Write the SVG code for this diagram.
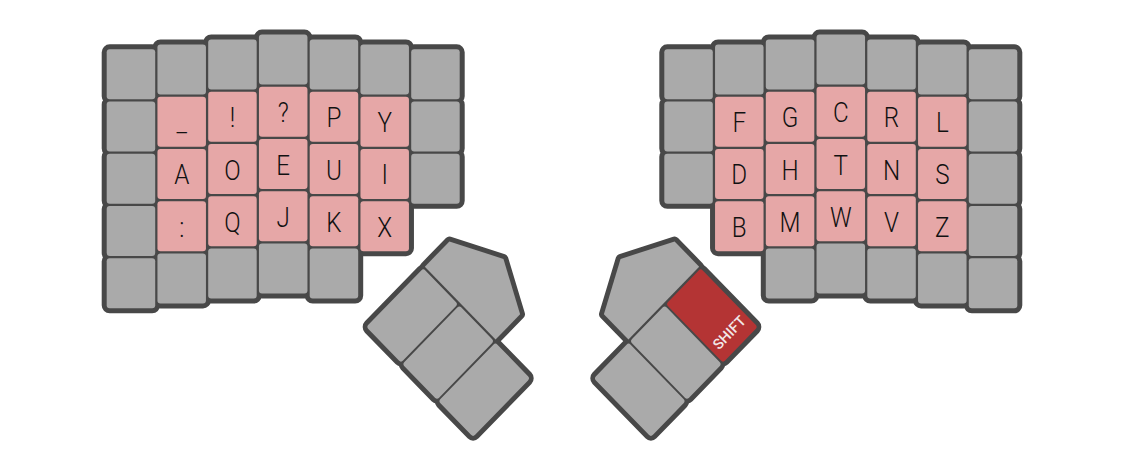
<svg xmlns="http://www.w3.org/2000/svg" xmlns:xlink="http://www.w3.org/1999/xlink" width="1124" height="470" viewBox="0 0 1124 470">
<style>
.ol{fill:#484848;stroke:#484848;stroke-width:10;stroke-linejoin:round}
.k{fill:#aaaaaa}
.p{fill:#e6a7a7}
.s{fill:#b43434}
.t{font-family:Roboto,"Liberation Sans",sans-serif;font-weight:300;font-size:28.5px;fill:#111111;text-anchor:middle}
.st{font-family:Roboto,"Liberation Sans",sans-serif;font-weight:500;font-size:14.5px;fill:#f2e8e8}
</style>
<defs>
<rect id="kr" width="48.5" height="50" rx="3"/>
<rect id="tk" width="50.5" height="83" rx="3"/>
<polygon id="pent" points="0,-2.25 0,-38 51.75,-65 103,-38 103,-2.25"/>
</defs>
<rect width="1124" height="470" fill="#ffffff"/>
<g id="outline-left">
<use href="#kr" class="ol" x="106.7" y="49.3"/><use href="#kr" class="ol" x="106.7" y="101.55"/><use href="#kr" class="ol" x="106.7" y="153.8"/><use href="#kr" class="ol" x="106.7" y="206.05"/><use href="#kr" class="ol" x="106.7" y="258.3"/>
<use href="#kr" class="ol" x="157.45" y="44.4"/><use href="#kr" class="ol" x="157.45" y="96.65"/><use href="#kr" class="ol" x="157.45" y="148.9"/><use href="#kr" class="ol" x="157.45" y="201.15"/><use href="#kr" class="ol" x="157.45" y="253.4"/>
<use href="#kr" class="ol" x="208.2" y="39.5"/><use href="#kr" class="ol" x="208.2" y="91.75"/><use href="#kr" class="ol" x="208.2" y="144"/><use href="#kr" class="ol" x="208.2" y="196.25"/><use href="#kr" class="ol" x="208.2" y="248.5"/>
<use href="#kr" class="ol" x="258.95" y="34.6"/><use href="#kr" class="ol" x="258.95" y="86.85"/><use href="#kr" class="ol" x="258.95" y="139.1"/><use href="#kr" class="ol" x="258.95" y="191.35"/><use href="#kr" class="ol" x="258.95" y="243.6"/>
<use href="#kr" class="ol" x="309.7" y="39.5"/><use href="#kr" class="ol" x="309.7" y="91.75"/><use href="#kr" class="ol" x="309.7" y="144"/><use href="#kr" class="ol" x="309.7" y="196.25"/><use href="#kr" class="ol" x="309.7" y="248.5"/>
<use href="#kr" class="ol" x="360.45" y="44.4"/><use href="#kr" class="ol" x="360.45" y="96.65"/><use href="#kr" class="ol" x="360.45" y="148.9"/><use href="#kr" class="ol" x="360.45" y="201.15"/>
<use href="#kr" class="ol" x="411.2" y="49.3"/><use href="#kr" class="ol" x="411.2" y="101.55"/><use href="#kr" class="ol" x="411.2" y="153.8"/>
</g>
<g id="outline-right">
<use href="#kr" class="ol" x="664.3" y="49.3"/><use href="#kr" class="ol" x="664.3" y="101.55"/><use href="#kr" class="ol" x="664.3" y="153.8"/>
<use href="#kr" class="ol" x="715.05" y="44.4"/><use href="#kr" class="ol" x="715.05" y="96.65"/><use href="#kr" class="ol" x="715.05" y="148.9"/><use href="#kr" class="ol" x="715.05" y="201.15"/>
<use href="#kr" class="ol" x="765.8" y="39.5"/><use href="#kr" class="ol" x="765.8" y="91.75"/><use href="#kr" class="ol" x="765.8" y="144"/><use href="#kr" class="ol" x="765.8" y="196.25"/><use href="#kr" class="ol" x="765.8" y="248.5"/>
<use href="#kr" class="ol" x="816.55" y="34.6"/><use href="#kr" class="ol" x="816.55" y="86.85"/><use href="#kr" class="ol" x="816.55" y="139.1"/><use href="#kr" class="ol" x="816.55" y="191.35"/><use href="#kr" class="ol" x="816.55" y="243.6"/>
<use href="#kr" class="ol" x="867.3" y="39.5"/><use href="#kr" class="ol" x="867.3" y="91.75"/><use href="#kr" class="ol" x="867.3" y="144"/><use href="#kr" class="ol" x="867.3" y="196.25"/><use href="#kr" class="ol" x="867.3" y="248.5"/>
<use href="#kr" class="ol" x="918.05" y="44.4"/><use href="#kr" class="ol" x="918.05" y="96.65"/><use href="#kr" class="ol" x="918.05" y="148.9"/><use href="#kr" class="ol" x="918.05" y="201.15"/><use href="#kr" class="ol" x="918.05" y="253.4"/>
<use href="#kr" class="ol" x="968.8" y="49.3"/><use href="#kr" class="ol" x="968.8" y="101.55"/><use href="#kr" class="ol" x="968.8" y="153.8"/><use href="#kr" class="ol" x="968.8" y="206.05"/><use href="#kr" class="ol" x="968.8" y="258.3"/>
</g>
<g id="outline-thumb-left" transform="matrix(0.6866 0.7071 -0.6866 0.7071 423.3 268.3)">
<use href="#tk" class="ol" x="0" y="0"/><use href="#tk" class="ol" x="52.5" y="0"/><use href="#tk" class="ol" x="105" y="0"/><use href="#pent" class="ol"/>
</g>
<g id="outline-thumb-right" transform="matrix(-0.6866 0.7071 0.6866 0.7071 700.7 268.3)">
<use href="#tk" class="ol" x="0" y="0"/><use href="#tk" class="ol" x="52.5" y="0"/><use href="#tk" class="ol" x="105" y="0"/><use href="#pent" class="ol"/>
</g>

<g id="left-half">
<g id="L-c0r0"><use href="#kr" class="k" x="106.7" y="49.3"/></g>
<g id="L-c0r1"><use href="#kr" class="k" x="106.7" y="101.55"/></g>
<g id="L-c0r2"><use href="#kr" class="k" x="106.7" y="153.8"/></g>
<g id="L-c0r3"><use href="#kr" class="k" x="106.7" y="206.05"/></g>
<g id="L-c0r4"><use href="#kr" class="k" x="106.7" y="258.3"/></g>
<g id="L-c1r0"><use href="#kr" class="k" x="157.45" y="44.4"/></g>
<g id="key-underscore"><use href="#kr" class="p" x="157.45" y="96.65"/><text class="t" transform="translate(181.7,132.15) scale(0.85,1)">_</text></g>
<g id="key-A"><use href="#kr" class="p" x="157.45" y="148.9"/><text class="t" transform="translate(181.7,184.4) scale(0.85,1)">A</text></g>
<g id="key-colon"><use href="#kr" class="p" x="157.45" y="201.15"/><text class="t" transform="translate(181.7,236.65) scale(0.85,1)">:</text></g>
<g id="L-c1r4"><use href="#kr" class="k" x="157.45" y="253.4"/></g>
<g id="L-c2r0"><use href="#kr" class="k" x="208.2" y="39.5"/></g>
<g id="key-excl"><use href="#kr" class="p" x="208.2" y="91.75"/><text class="t" transform="translate(232.45,127.25) scale(0.85,1)">!</text></g>
<g id="key-O"><use href="#kr" class="p" x="208.2" y="144"/><text class="t" transform="translate(232.45,179.5) scale(0.85,1)">O</text></g>
<g id="key-Q"><use href="#kr" class="p" x="208.2" y="196.25"/><text class="t" transform="translate(232.45,231.75) scale(0.85,1)">Q</text></g>
<g id="L-c2r4"><use href="#kr" class="k" x="208.2" y="248.5"/></g>
<g id="L-c3r0"><use href="#kr" class="k" x="258.95" y="34.6"/></g>
<g id="key-quest"><use href="#kr" class="p" x="258.95" y="86.85"/><text class="t" transform="translate(283.2,122.35) scale(0.85,1)">?</text></g>
<g id="key-E"><use href="#kr" class="p" x="258.95" y="139.1"/><text class="t" transform="translate(283.2,174.6) scale(0.85,1)">E</text></g>
<g id="key-J"><use href="#kr" class="p" x="258.95" y="191.35"/><text class="t" transform="translate(283.2,226.85) scale(0.85,1)">J</text></g>
<g id="L-c3r4"><use href="#kr" class="k" x="258.95" y="243.6"/></g>
<g id="L-c4r0"><use href="#kr" class="k" x="309.7" y="39.5"/></g>
<g id="key-P"><use href="#kr" class="p" x="309.7" y="91.75"/><text class="t" transform="translate(333.95,127.25) scale(0.85,1)">P</text></g>
<g id="key-U"><use href="#kr" class="p" x="309.7" y="144"/><text class="t" transform="translate(333.95,179.5) scale(0.85,1)">U</text></g>
<g id="key-K"><use href="#kr" class="p" x="309.7" y="196.25"/><text class="t" transform="translate(333.95,231.75) scale(0.85,1)">K</text></g>
<g id="L-c4r4"><use href="#kr" class="k" x="309.7" y="248.5"/></g>
<g id="L-c5r0"><use href="#kr" class="k" x="360.45" y="44.4"/></g>
<g id="key-Y"><use href="#kr" class="p" x="360.45" y="96.65"/><text class="t" transform="translate(384.7,132.15) scale(0.85,1)">Y</text></g>
<g id="key-I"><use href="#kr" class="p" x="360.45" y="148.9"/><text class="t" transform="translate(384.7,184.4) scale(0.85,1)">I</text></g>
<g id="key-X"><use href="#kr" class="p" x="360.45" y="201.15"/><text class="t" transform="translate(384.7,236.65) scale(0.85,1)">X</text></g>
<g id="L-c6r0"><use href="#kr" class="k" x="411.2" y="49.3"/></g>
<g id="L-c6r1"><use href="#kr" class="k" x="411.2" y="101.55"/></g>
<g id="L-c6r2"><use href="#kr" class="k" x="411.2" y="153.8"/></g>
</g>

<g id="right-half">
<g id="R-c0r0"><use href="#kr" class="k" x="664.3" y="49.3"/></g>
<g id="R-c0r1"><use href="#kr" class="k" x="664.3" y="101.55"/></g>
<g id="R-c0r2"><use href="#kr" class="k" x="664.3" y="153.8"/></g>
<g id="R-c1r0"><use href="#kr" class="k" x="715.05" y="44.4"/></g>
<g id="key-F"><use href="#kr" class="p" x="715.05" y="96.65"/><text class="t" transform="translate(739.3,132.15) scale(0.85,1)">F</text></g>
<g id="key-D"><use href="#kr" class="p" x="715.05" y="148.9"/><text class="t" transform="translate(739.3,184.4) scale(0.85,1)">D</text></g>
<g id="key-B"><use href="#kr" class="p" x="715.05" y="201.15"/><text class="t" transform="translate(739.3,236.65) scale(0.85,1)">B</text></g>
<g id="R-c2r0"><use href="#kr" class="k" x="765.8" y="39.5"/></g>
<g id="key-G"><use href="#kr" class="p" x="765.8" y="91.75"/><text class="t" transform="translate(790.05,127.25) scale(0.85,1)">G</text></g>
<g id="key-H"><use href="#kr" class="p" x="765.8" y="144"/><text class="t" transform="translate(790.05,179.5) scale(0.85,1)">H</text></g>
<g id="key-M"><use href="#kr" class="p" x="765.8" y="196.25"/><text class="t" transform="translate(790.05,231.75) scale(0.85,1)">M</text></g>
<g id="R-c2r4"><use href="#kr" class="k" x="765.8" y="248.5"/></g>
<g id="R-c3r0"><use href="#kr" class="k" x="816.55" y="34.6"/></g>
<g id="key-C"><use href="#kr" class="p" x="816.55" y="86.85"/><text class="t" transform="translate(840.8,122.35) scale(0.85,1)">C</text></g>
<g id="key-T"><use href="#kr" class="p" x="816.55" y="139.1"/><text class="t" transform="translate(840.8,174.6) scale(0.85,1)">T</text></g>
<g id="key-W"><use href="#kr" class="p" x="816.55" y="191.35"/><text class="t" transform="translate(840.8,226.85) scale(0.85,1)">W</text></g>
<g id="R-c3r4"><use href="#kr" class="k" x="816.55" y="243.6"/></g>
<g id="R-c4r0"><use href="#kr" class="k" x="867.3" y="39.5"/></g>
<g id="key-R"><use href="#kr" class="p" x="867.3" y="91.75"/><text class="t" transform="translate(891.55,127.25) scale(0.85,1)">R</text></g>
<g id="key-N"><use href="#kr" class="p" x="867.3" y="144"/><text class="t" transform="translate(891.55,179.5) scale(0.85,1)">N</text></g>
<g id="key-V"><use href="#kr" class="p" x="867.3" y="196.25"/><text class="t" transform="translate(891.55,231.75) scale(0.85,1)">V</text></g>
<g id="R-c4r4"><use href="#kr" class="k" x="867.3" y="248.5"/></g>
<g id="R-c5r0"><use href="#kr" class="k" x="918.05" y="44.4"/></g>
<g id="key-L"><use href="#kr" class="p" x="918.05" y="96.65"/><text class="t" transform="translate(942.3,132.15) scale(0.85,1)">L</text></g>
<g id="key-S"><use href="#kr" class="p" x="918.05" y="148.9"/><text class="t" transform="translate(942.3,184.4) scale(0.85,1)">S</text></g>
<g id="key-Z"><use href="#kr" class="p" x="918.05" y="201.15"/><text class="t" transform="translate(942.3,236.65) scale(0.85,1)">Z</text></g>
<g id="R-c5r4"><use href="#kr" class="k" x="918.05" y="253.4"/></g>
<g id="R-c6r0"><use href="#kr" class="k" x="968.8" y="49.3"/></g>
<g id="R-c6r1"><use href="#kr" class="k" x="968.8" y="101.55"/></g>
<g id="R-c6r2"><use href="#kr" class="k" x="968.8" y="153.8"/></g>
<g id="R-c6r3"><use href="#kr" class="k" x="968.8" y="206.05"/></g>
<g id="R-c6r4"><use href="#kr" class="k" x="968.8" y="258.3"/></g>
</g>

<g id="thumb-left" transform="matrix(0.6866 0.7071 -0.6866 0.7071 423.3 268.3)">
<g id="LT-a"><use href="#tk" class="k" x="0" y="0"/></g>
<g id="LT-b"><use href="#tk" class="k" x="52.5" y="0"/></g>
<g id="LT-c"><use href="#tk" class="k" x="105" y="0"/></g>
<g id="LT-d"><use href="#pent" class="k"/></g>
</g>
<g id="thumb-right" transform="matrix(-0.6866 0.7071 0.6866 0.7071 700.7 268.3)">
<g id="RT-shift"><use href="#tk" class="s" x="0" y="0"/></g>
<g id="RT-b"><use href="#tk" class="k" x="52.5" y="0"/></g>
<g id="RT-c"><use href="#tk" class="k" x="105" y="0"/></g>
<g id="RT-d"><use href="#pent" class="k"/></g>
</g>
<g id="shift-label"><text class="st" transform="translate(719,350.5) rotate(-46)">SHIFT</text></g>
</svg>
